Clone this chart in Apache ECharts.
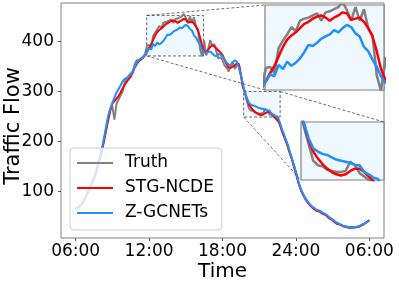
<!DOCTYPE html>
<html><head><meta charset="utf-8">
<script src="https://cdn.jsdelivr.net/npm/echarts@6/dist/echarts.min.js"></script>
<style>html,body{margin:0;padding:0;background:#fff}#c{width:399px;height:284px}</style>
</head><body><div id="c"></div>
<script>
// Time step: 10 minutes, in hours from 06:00
const stepHours = 1 / 6;

const truth = [65,68,71,75,82,90,100,108,117,127,140,155,170,186,206,228,248,266,270,244,275,284,292,300,318,326,331,336,340,355,363,360,366,369,374,
392,393,387,411,418,424,431,427,437,439,440,442,444,437,445,446,448,450,455,447,437,450,437,448,430,423,385,370,
402,372,385,403,390,395,380,366,368,363,352,348,340,352,360,345,352,356,335,310,
296,281,266,262,261,258,257,256,256,257,265,262,255,252,249,246,242,236,
224,213,203,192,178,166,152,138,122,109,99,91,84,78,73,69,66,63,62,60,57,55,53,49,46,44,40,37,36,34,32,31,30,29,29,29,29,30,31,33,35,37,40,43];

const stgNcde = [66,68,72,76,82,90,99,107,116,126,138,152,167,184,203,224,244,262,276,281,286,291,298,306,313,319,325,330,338,348,355,361,364,367,372,
380,387,394,403,412,419,423,426,430,434,436,439,441,442,440,437,440,442,445,444,438,439,440,436,430,422,408,391,
381,377,384,389,393,390,386,382,378,373,364,355,348,347,350,352,356,354,333,310,
299,284,274,268,263,259,256,254,253,254,257,259,259,256,252,248,243,236,
223,212,202,190,177,165,151,137,121,108,98,90,83,77,72,68,65,62,61,59,56,54,52,48,45,43,39,36,35,33,31,30,29,28,28,28,29,29,30,32,34,37,40,42];

const zGcnets = [64,67,70,75,81,89,100,109,118,128,141,156,172,189,209,232,252,266,278,288,298,305,312,320,325,327,330,334,341,350,358,363,366,368,373,
379,386,384,395,391,398,394,397,401,407,414,413,416,420,422,424,428,426,430,433,431,425,422,412,408,400,393,384,
378,377,379,380,376,372,370,375,374,370,364,358,354,353,357,362,360,348,333,315,
299,286,277,274,272,271,269,267,266,265,264,262,262,256,254,251,250,240,
227,216,205,194,180,167,153,139,123,110,100,92,85,79,74,70,67,64,63,61,58,56,54,50,47,44,41,38,36,34,32,31,30,29,29,29,29,30,31,33,35,37,40,43];

const seriesNames = ['Truth', 'STG-NCDE', 'Z-GCNETs'];
const xTickValues = [0, 6, 12, 18, 24];
const xTickLabels = ['06:00', '12:00', '18:00', '24:00', '06:00'];
const yTickValues = [100, 200, 300, 400];
const inset1X = [5.8, 10.45], inset1Y = [371, 452];
const inset2X = [13.73, 16.71], inset2Y = [249, 300];

const FONT = 'DejaVu Sans';
const colors = ['#808080', '#ff0000', '#1e90ff'];
const dataSets = [truth, stgNcde, zGcnets];
const pairs = arr => arr.map((v, i) => [i * stepHours, v]);

const chart = echarts.init(document.getElementById('c'), null, {renderer: 'canvas'});

const grids = [
  {left: 61, top: 3, width: 323, height: 235, show: true, borderColor: '#808080', borderWidth: 1, backgroundColor: 'transparent', containLabel: false, outerBoundsMode: 'none'},
  {left: 265, top: 5, width: 119, height: 85, show: true, borderColor: '#808080', borderWidth: 1.2, backgroundColor: '#F0F8FF', z: 3, containLabel: false, outerBoundsMode: 'none'},
  {left: 301, top: 122, width: 83, height: 58, show: true, borderColor: '#808080', borderWidth: 1.2, backgroundColor: '#F0F8FF', z: 3, containLabel: false, outerBoundsMode: 'none'}
];

const xAxes = [
  {type: 'value', gridIndex: 0, min: -1.2, max: 25.2,
   axisLine: {show: false, onZero: false},
   axisTick: {show: true, customValues: xTickValues, length: 3, lineStyle: {color: '#555'}},
   axisLabel: {customValues: xTickValues, formatter: v => xTickLabels[xTickValues.indexOf(v)], fontSize: 17, fontFamily: FONT, color: '#000', margin: 5},
   splitLine: {show: false},
   name: 'Time', nameLocation: 'middle', nameGap: 24, nameMoveOverlap: false, nameTextStyle: {fontSize: 20, fontFamily: FONT, color: '#000'}},
  {type: 'value', gridIndex: 1, min: inset1X[0], max: inset1X[1], show: false},
  {type: 'value', gridIndex: 2, min: inset2X[0], max: inset2X[1], show: false}
];
const yAxes = [
  {type: 'value', gridIndex: 0, min: 7.4, max: 476.8,
   axisLine: {show: false, onZero: false},
   axisTick: {show: true, customValues: yTickValues, length: 3, lineStyle: {color: '#555'}},
   axisLabel: {customValues: yTickValues, fontSize: 17, fontFamily: FONT, color: '#000', margin: 7},
   splitLine: {show: false},
   name: 'Traffic Flow', nameLocation: 'middle', nameGap: 37, nameRotate: 90, nameMoveOverlap: false,
   nameTextStyle: {fontSize: 21, fontFamily: FONT, color: '#000', padding: [0, 11, 0, 0]}},
  {type: 'value', gridIndex: 1, min: inset1Y[0], max: inset1Y[1], show: false},
  {type: 'value', gridIndex: 2, min: inset2Y[0], max: inset2Y[1], show: false}
];

const series = [];
for (let g = 0; g < 3; g++) {
  for (let s = 0; s < 3; s++) {
    const item = {
      type: 'line', name: seriesNames[s], xAxisIndex: g, yAxisIndex: g,
      data: pairs(dataSets[s]), symbol: 'none', showSymbol: false, silent: true, clip: true,
      lineStyle: {color: colors[s], width: g === 0 ? 2 : 2.5}, itemStyle: {color: colors[s]},
      z: g === 0 ? 2 : 5
    };
    if (g === 0 && s === 0) {
      item.markArea = {
        silent: true,
        itemStyle: {color: '#F0F8FF', borderColor: '#444', borderWidth: 0.8, borderType: [3, 2]},
        data: [
          [{xAxis: inset1X[0], yAxis: inset1Y[1]}, {xAxis: inset1X[1], yAxis: inset1Y[0]}],
          [{xAxis: inset2X[0], yAxis: inset2Y[1]}, {xAxis: inset2X[1], yAxis: inset2Y[0]}]
        ]
      };
    }
    series.push(item);
  }
}

chart.setOption({
  animation: false,
  textStyle: {fontFamily: FONT},
  grid: grids, xAxis: xAxes, yAxis: yAxes, series: series,
  legend: {
    data: seriesNames, left: 70, top: 148, orient: 'vertical', selectedMode: false,
    icon: 'rect', itemWidth: 36, itemHeight: 2, itemGap: 5, padding: [5, 8, 7, 7],
    backgroundColor: 'rgba(255,255,255,0.8)', borderColor: '#cccccc', borderWidth: 1, borderRadius: 4,
    textStyle: {fontSize: 17, fontFamily: FONT, color: '#000', lineHeight: 20, padding: [0, 0, 0, 7]}
  }
});

// connector lines between zoom boxes and insets, via the library's coordinate conversion
function px(g, p) { return chart.convertToPixel({gridIndex: g}, p); }
const conns = [
  [px(0, [inset1X[0], inset1Y[1]]), px(1, [inset1X[0], inset1Y[1]])],
  [px(0, [inset1X[0], inset1Y[0]]), px(1, [inset1X[0], inset1Y[0]])],
  [px(0, [inset2X[1], inset2Y[1]]), px(2, [inset2X[1], inset2Y[1]])],
  [px(0, [inset2X[0], inset2Y[0]]), px(2, [inset2X[0], inset2Y[0]])]
];
chart.setOption({
  graphic: conns.map(c => ({
    type: 'line', z: 10, silent: true,
    shape: {x1: c[0][0], y1: c[0][1], x2: c[1][0], y2: c[1][1]},
    style: {stroke: '#333', lineWidth: 0.7, lineDash: [3, 2]}
  }))
});
</script></body></html>
